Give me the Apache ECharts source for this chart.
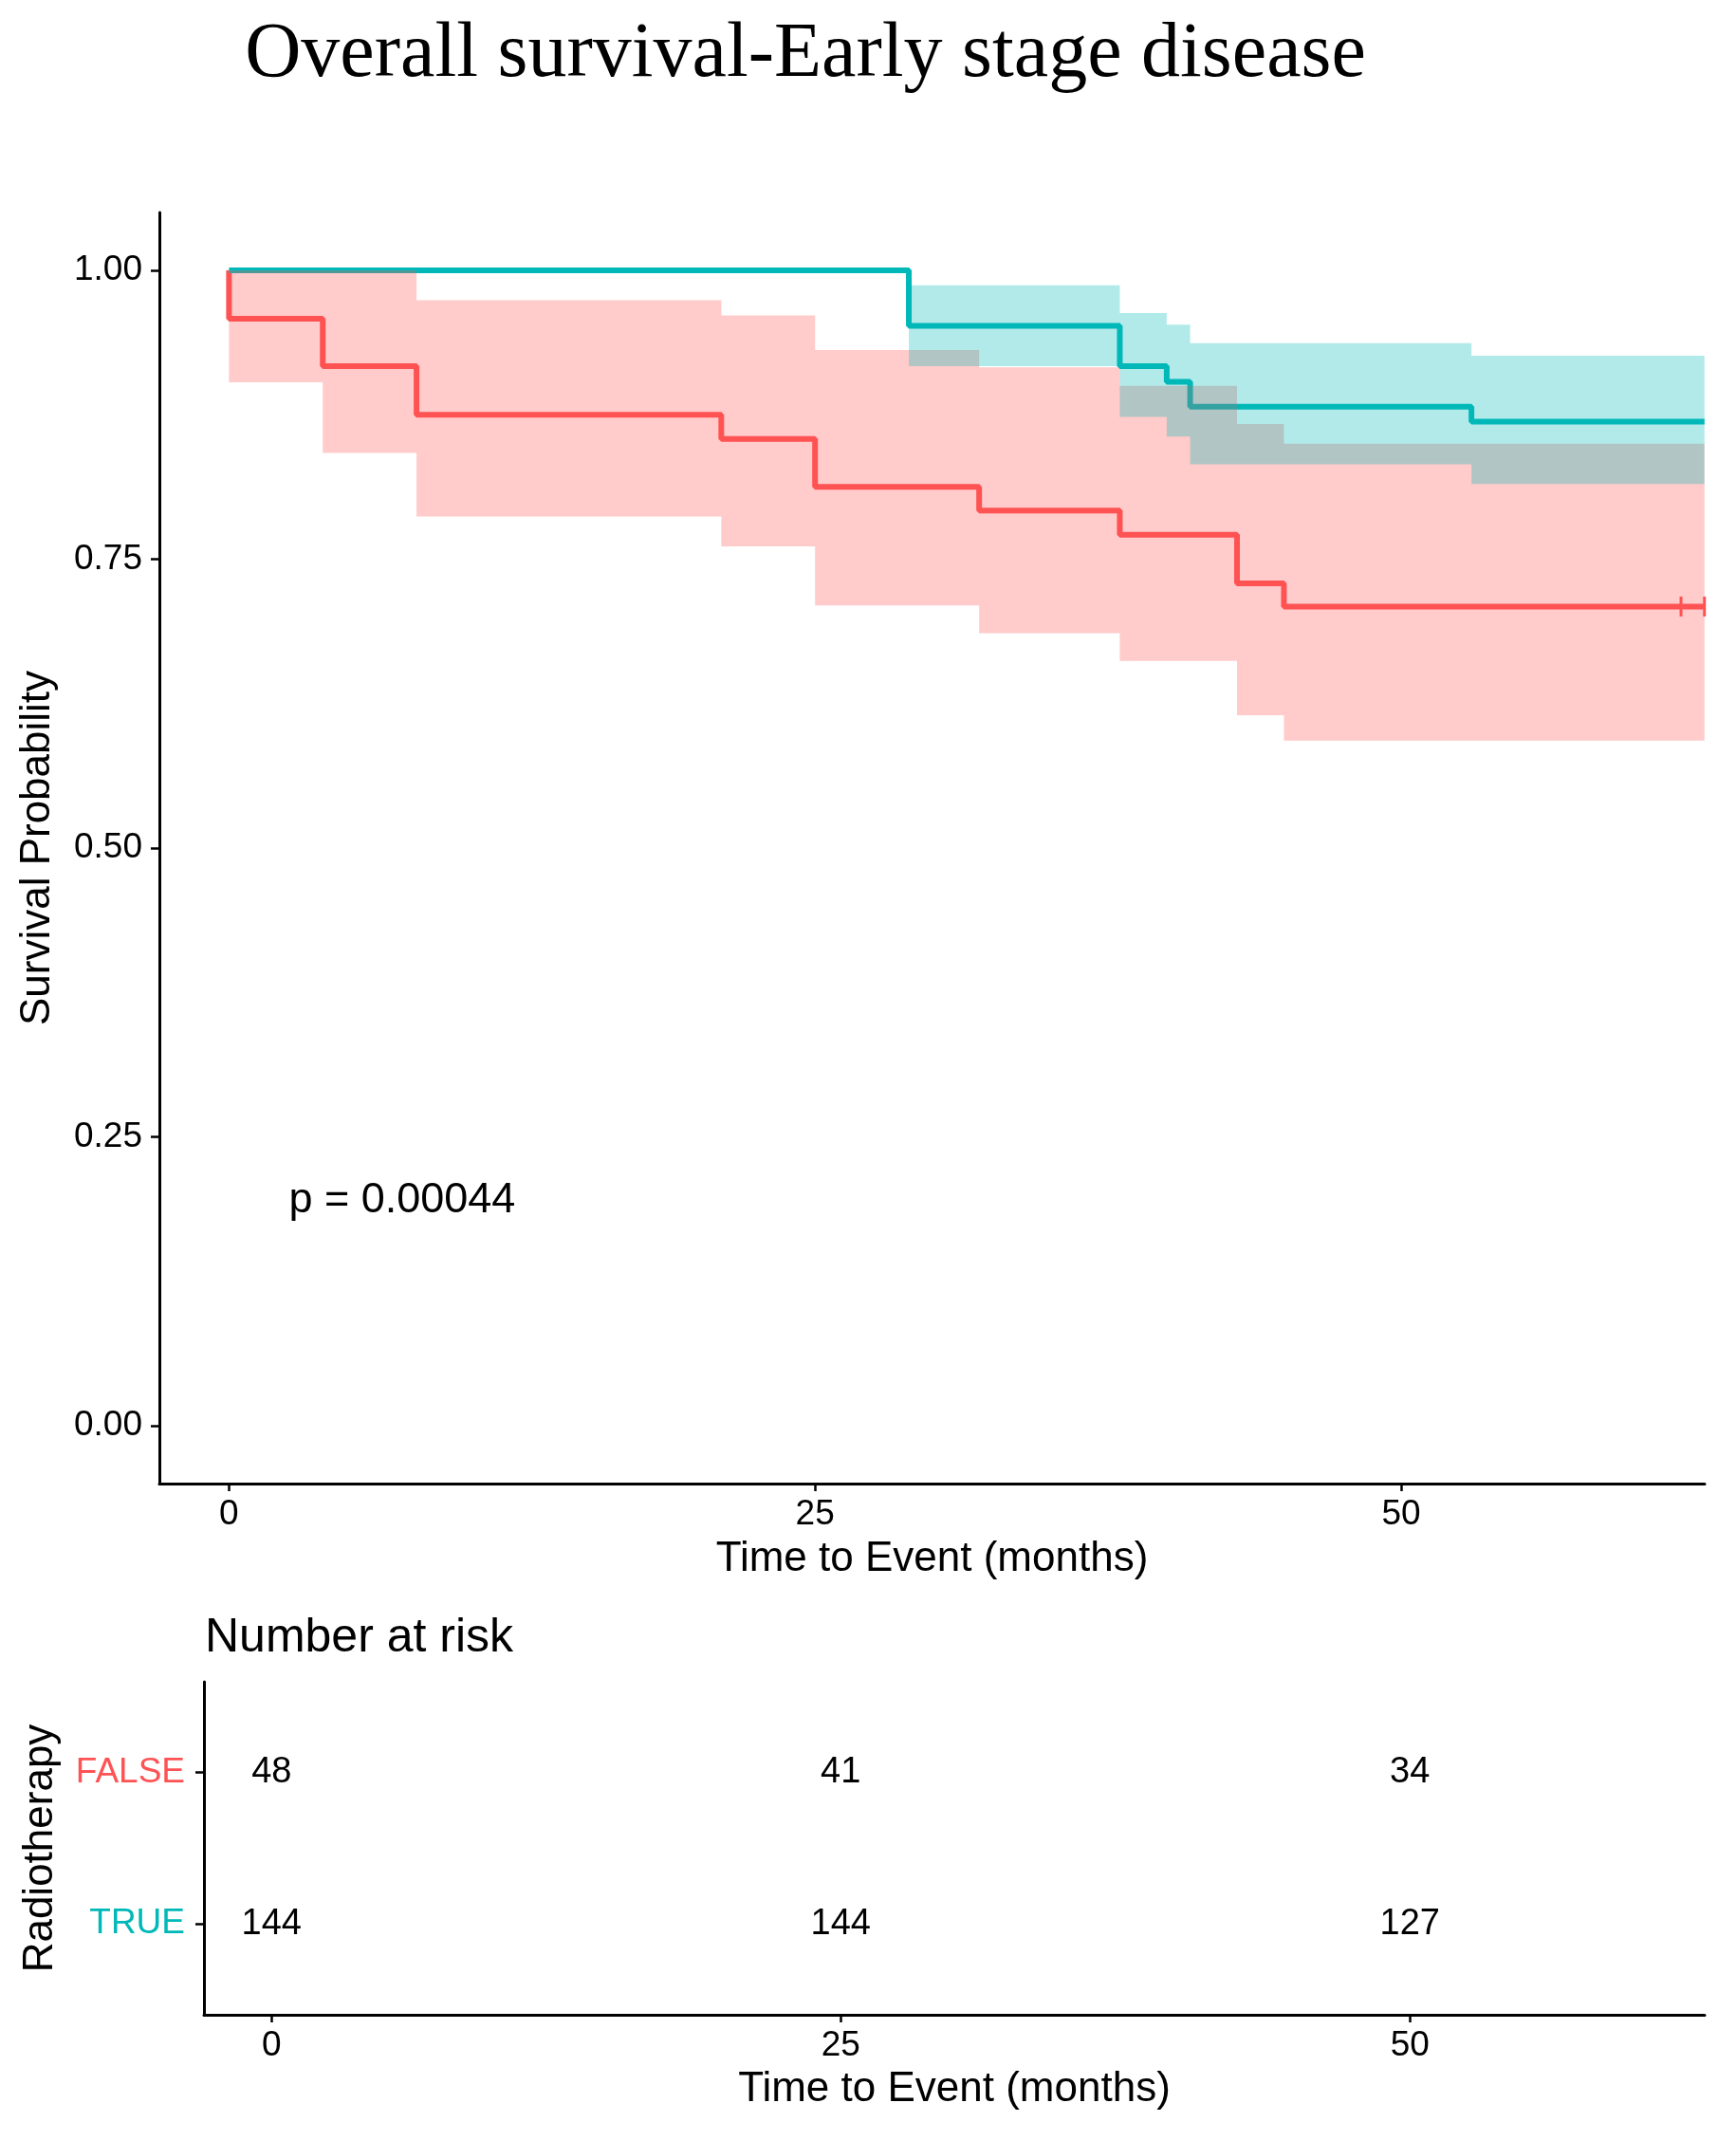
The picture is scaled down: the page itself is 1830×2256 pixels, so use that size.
<!DOCTYPE html>
<html>
<head>
<meta charset="utf-8">
<script src="https://cdn.jsdelivr.net/npm/echarts@6/dist/echarts.min.js"></script>
<style>
html,body{margin:0;padding:0;background:#fff;}
#c{width:1830px;height:2256px;}
</style>
</head>
<body>
<div id="c"></div>
<script>
// ---------- data ----------
const titleText = 'Overall survival-Early stage disease';
const xTicks = [0, 25, 50];
const yTicks = [0, 0.25, 0.5, 0.75, 1];
const groupNames = ['FALSE', 'TRUE'];
const legendTitle = 'Radiotherapy';
const xTitle = 'Time to Event (months)';
const yTitle = 'Survival Probability';
const pValueText = 'p = 0.00044';
const pValuePos = [2.55, 0.195];

// FALSE group (no radiotherapy)
const falseTime  = [0, 0, 4, 8, 21, 25, 32, 38, 43, 45, 62.94];
const falseSurv  = [1, 0.958, 0.917, 0.875, 0.854, 0.8125, 0.792, 0.771, 0.729, 0.709, 0.709];
const falseLower = [1, 0.903, 0.842, 0.787, 0.761, 0.710, 0.686, 0.662, 0.615, 0.593, 0.593];
const falseUpper = [1, 1.000, 1.000, 0.974, 0.961, 0.931, 0.916, 0.900, 0.867, 0.850, 0.850];
const falseCensorTime = [61.94, 62.94];
const falseCensorSurv = [0.709, 0.709];

// TRUE group (radiotherapy)
const trueTime  = [0, 29, 38, 40, 41, 53, 62.94];
const trueSurv  = [1, 0.952, 0.917, 0.9035, 0.882, 0.869, 0.869];
const trueLower = [1, 0.917, 0.873, 0.856, 0.832, 0.815, 0.815];
const trueUpper = [1, 0.987, 0.963, 0.953, 0.937, 0.926, 0.926];

// Number at risk
const riskTitle = 'Number at risk';
const riskTimes = [0, 25, 50];
const riskFalse = [48, 41, 34];
const riskTrue  = [144, 144, 127];

// ---------- styles ----------
const RED = '#FF5254';
const TEAL = '#00B8B8';
const SANS = '"Liberation Sans", Arial, Helvetica, sans-serif';
const SERIF = '"Liberation Serif", "Times New Roman", serif';
const X_MIN = -2.97, X_MAX = 62.95;

function zip(a, b) { return a.map((v, i) => [v, b[i]]); }

function bandSeries(times, lower, upper, color, z) {
  const rows = times.map((t, i) => [t, lower[i], upper[i]]);
  return {
    type: 'custom', xAxisIndex: 0, yAxisIndex: 0, silent: true, z: z,
    data: rows,
    encode: { x: 0, y: [1, 2] },
    renderItem: function (params, api) {
      if (params.dataIndex !== 0) return null;
      const pts = [];
      for (let i = 0; i < rows.length - 1; i++) {
        pts.push(api.coord([rows[i][0], rows[i][2]]));
        pts.push(api.coord([rows[i + 1][0], rows[i][2]]));
      }
      for (let i = rows.length - 2; i >= 0; i--) {
        pts.push(api.coord([rows[i + 1][0], rows[i][1]]));
        pts.push(api.coord([rows[i][0], rows[i][1]]));
      }
      return { type: 'polygon', shape: { points: pts }, style: { fill: color, opacity: 0.3 } };
    }
  };
}

const axisLineStyle = { show: true, onZero: false, lineStyle: { color: '#000', width: 3 } };
const tickLabelStyle = { color: '#000', fontSize: 37, fontFamily: SANS };
const nameStyle = { color: '#000', fontSize: 44, fontFamily: SANS, verticalAlign: 'middle' };

const riskData = [];
riskTimes.forEach((t, i) => {
  riskData.push([t, 2, riskFalse[i]]);
  riskData.push([t, 1, riskTrue[i]]);
});

const chart = echarts.init(document.getElementById('c'), null, { renderer: 'canvas' });
chart.setOption({
  backgroundColor: '#fff',
  animation: false,
  graphic: [
    { type: 'text', style: { text: titleText, x: 849, y: 58, align: 'center', verticalAlign: 'middle', fontSize: 82, fontFamily: SERIF, fill: '#000' } },
    { type: 'text', style: { text: riskTitle, x: 216, y: 1727, align: 'left', verticalAlign: 'middle', fontSize: 50, fontFamily: SANS, fill: '#000' } }
  ],
  grid: [
    { left: 168, right: 33, top: 224, bottom: 692, containLabel: false },
    { left: 215, right: 33, top: 1773, bottom: 132, containLabel: false }
  ],
  xAxis: [
    {
      type: 'value', gridIndex: 0, min: X_MIN, max: X_MAX,
      splitLine: { show: false },
      axisLine: axisLineStyle,
      axisTick: { show: true, length: 8, lineStyle: { color: '#000', width: 2.5 }, customValues: xTicks },
      axisLabel: Object.assign({ margin: 14, customValues: xTicks, formatter: v => String(v) }, tickLabelStyle),
      name: xTitle, nameLocation: 'middle', nameGap: 80, nameTextStyle: nameStyle
    },
    {
      type: 'value', gridIndex: 1, min: X_MIN, max: X_MAX,
      splitLine: { show: false },
      axisLine: axisLineStyle,
      axisTick: { show: true, length: 8, lineStyle: { color: '#000', width: 2.5 }, customValues: xTicks },
      axisLabel: Object.assign({ margin: 14, customValues: xTicks, formatter: v => String(v) }, tickLabelStyle),
      name: xTitle, nameLocation: 'middle', nameGap: 79, nameTextStyle: nameStyle
    }
  ],
  yAxis: [
    {
      type: 'value', gridIndex: 0, min: -0.05, max: 1.05,
      splitLine: { show: false },
      axisLine: axisLineStyle,
      axisTick: { show: true, length: 9, lineStyle: { color: '#000', width: 2.5 }, customValues: yTicks },
      axisLabel: Object.assign({ margin: 18, customValues: yTicks, formatter: v => v.toFixed(2) }, tickLabelStyle),
      name: yTitle, nameLocation: 'middle', nameGap: 128, nameRotate: 90, nameTextStyle: nameStyle
    },
    {
      type: 'value', gridIndex: 1, min: 0.4, max: 2.6,
      splitLine: { show: false },
      axisLine: axisLineStyle,
      axisTick: { show: true, length: 9, lineStyle: { color: '#000', width: 2.5 }, customValues: [1, 2] },
      axisLabel: {
        margin: 20, customValues: [1, 2],
        formatter: v => v === 2 ? '{f|' + groupNames[0] + '}' : '{t|' + groupNames[1] + '}',
        rich: {
          f: { color: RED, fontSize: 37, fontFamily: SANS },
          t: { color: TEAL, fontSize: 37, fontFamily: SANS }
        }
      },
      name: legendTitle, nameLocation: 'middle', nameGap: 172, nameRotate: 90, nameTextStyle: nameStyle
    }
  ],
  series: [
    {
      type: 'line', name: 'FALSE', xAxisIndex: 0, yAxisIndex: 0, step: 'end', z: 2,
      data: zip(falseTime, falseSurv), showSymbol: false, symbol: 'none',
      lineStyle: { color: RED, width: 6 }, itemStyle: { color: RED }
    },
    {
      type: 'line', name: 'TRUE', xAxisIndex: 0, yAxisIndex: 0, step: 'end', z: 3,
      data: zip(trueTime, trueSurv), showSymbol: false, symbol: 'none',
      lineStyle: { color: TEAL, width: 6 }, itemStyle: { color: TEAL }
    },
    {
      type: 'scatter', xAxisIndex: 0, yAxisIndex: 0, z: 4, silent: true,
      data: zip(falseCensorTime, falseCensorSurv),
      symbol: 'rect', symbolSize: [3, 21], itemStyle: { color: RED, opacity: 1 }
    },
    bandSeries(falseTime, falseLower, falseUpper, RED, 5),
    bandSeries(trueTime, trueLower, trueUpper, TEAL, 6),
    {
      type: 'scatter', xAxisIndex: 0, yAxisIndex: 0, z: 7, silent: true,
      data: [pValuePos], symbolSize: 0, itemStyle: { opacity: 1 },
      label: { show: true, position: 'right', distance: 0, formatter: pValueText, color: '#000', opacity: 1, textBorderWidth: 0, fontSize: 45, fontFamily: SANS, align: 'left', verticalAlign: 'middle' }
    },
    {
      type: 'scatter', xAxisIndex: 1, yAxisIndex: 1, z: 7, silent: true,
      data: riskData, symbolSize: 0, itemStyle: { opacity: 1 },
      label: { show: true, position: 'inside', formatter: p => String(p.value[2]), color: '#000', opacity: 1, textBorderWidth: 0, fontSize: 38, fontFamily: SANS, align: 'center', verticalAlign: 'middle' }
    }
  ]
});
</script>
</body>
</html>
